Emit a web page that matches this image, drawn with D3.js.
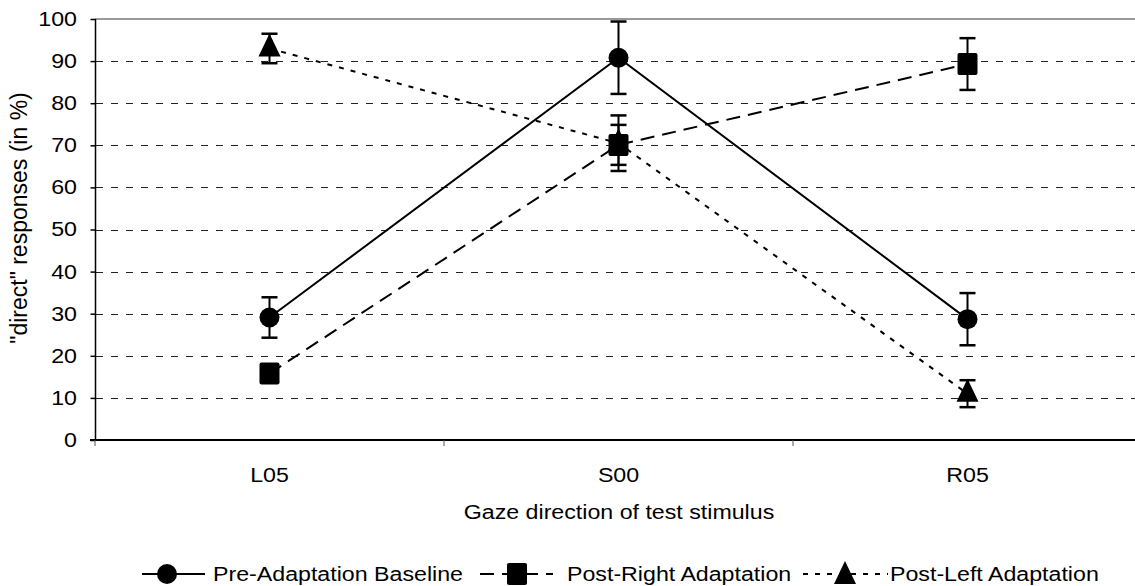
<!DOCTYPE html>
<html><head><meta charset="utf-8">
<script src="https://cdn.jsdelivr.net/npm/d3@7"></script>
<style>
html,body{margin:0;padding:0;background:#fff;overflow:hidden}
text{font-family:"Liberation Sans",Arial,sans-serif;fill:#000}
</style></head>
<body>
<svg id="chart" width="1135" height="586"></svg>
<script>
const categories = ["L05", "S00", "R05"];
const preValues = [29.1, 90.8, 28.7];
const preErr = [4.8, 8.6, 6.2];
const postRightValues = [15.8, 70.1, 89.3];
const postRightErr = [2.0, 4.75, 6.15];
const postLeftValues = [93.0, 70.5, 11.0];
const postLeftErr = [3.5, 6.6, 3.2];
const yTicks = [0, 10, 20, 30, 40, 50, 60, 70, 80, 90, 100];
const seriesNames = ["Pre-Adaptation Baseline", "Post-Right Adaptation", "Post-Left Adaptation"];
const yTitle = "\"direct\" responses (in %)";
const xTitle = "Gaze direction of test stimulus";

(function () {
const FS = 20, SX = 1.16;
const svg = d3.select("#chart");
const pLeft = 95, pRight = 1142, pTop = 19, pBottom = 440;
const x = d3.scaleBand().domain(categories).range([pLeft, pRight]).paddingInner(0).paddingOuter(0);
const cx = c => x(c) + x.bandwidth() / 2;
const y = d3.scaleLinear().domain([0, 100]).range([pBottom, pTop]);

function stext(g, str, tx, ty, anchor, baseline) {
  const gg = g.append("g").attr("transform", `translate(${tx},${ty}) scale(${SX},1)`);
  const t = gg.append("text").attr("font-size", FS).attr("text-anchor", anchor || "start").text(str);
  if (baseline) t.attr("dominant-baseline", baseline);
  return t;
}

// gridlines
svg.append("g").selectAll("line").data(yTicks.filter(v => v > 0 && v < 100)).join("line")
  .attr("x1", pLeft + 1).attr("x2", 1135).attr("y1", d => Math.round(y(d)) + 0.5).attr("y2", d => Math.round(y(d)) + 0.5)
  .attr("stroke", "#222").attr("stroke-width", 1).attr("stroke-dasharray", "7,8");
// top border
svg.append("line").attr("x1", pLeft).attr("x2", 1135).attr("y1", y(100)).attr("y2", y(100))
  .attr("stroke", "#999").attr("stroke-width", 2);

// y axis
const yAxis = d3.axisLeft(y).tickValues(yTicks).tickSize(5).tickFormat("");
const yg = svg.append("g").attr("transform", `translate(${pLeft + 0.5},0)`).call(yAxis);
yg.selectAll("path,line").attr("stroke", "#000").attr("stroke-width", 1.5);
yg.select(".domain").attr("d", `M0,${pTop}V${pBottom}`);
yTicks.forEach(v => stext(svg, String(v), 77, y(v), "end", "central"));

// x axis
const xAxis = d3.axisBottom(x).tickSize(0).tickFormat("");
const xg = svg.append("g").attr("transform", `translate(0,${pBottom})`).call(xAxis);
xg.select(".domain").attr("d", `M${pLeft - 5},0H1135`).attr("stroke", "#000").attr("stroke-width", 2);
xg.selectAll("line.sep").data(categories).join("line").attr("class", "sep")
  .attr("x1", d => x(d)).attr("x2", d => x(d)).attr("y1", 0).attr("y2", 6)
  .attr("stroke", "#555").attr("stroke-width", 1);
categories.forEach(c => stext(svg, c, cx(c), 482, "middle"));

// titles
stext(svg, xTitle, 619, 519, "middle");
svg.append("g").attr("transform", `translate(19,218) rotate(-90)`)
  .append("text").attr("font-size", 23).attr("text-anchor", "middle").attr("dominant-baseline", "central").text(yTitle);

const series = [
  { name: seriesNames[0], vals: preValues, err: preErr, dash: null, shape: "circle" },
  { name: seriesNames[2], vals: postLeftValues, err: postLeftErr, dash: "5,7", shape: "triangle" },
  { name: seriesNames[1], vals: postRightValues, err: postRightErr, dash: "14,8", shape: "square" }
];

const line = d3.line().x(d => cx(d.c)).y(d => y(d.v));
series.forEach(s => {
  const pts = categories.map((c, i) => ({ c, v: s.vals[i], e: s.err[i] }));
  svg.append("path").datum(pts).attr("d", line).attr("fill", "none").attr("stroke", "#000")
    .attr("stroke-width", 2).attr("stroke-dasharray", s.dash);
});

function marker(g, shape, px, py) {
  if (shape === "circle") g.append("circle").attr("cx", px).attr("cy", py).attr("r", 10).attr("fill", "#000");
  else if (shape === "square") g.append("rect").attr("x", px - 10).attr("y", py - 11).attr("width", 20).attr("height", 22).attr("rx", 2).attr("fill", "#000");
  else g.append("path").attr("d", `M${px},${py - 15}L${px + 11},${py + 8}L${px - 11},${py + 8}Z`).attr("fill", "#000");
}

series.forEach(s => {
  const pts = categories.map((c, i) => ({ c, v: s.vals[i], e: s.err[i] }));
  const g = svg.append("g");
  pts.forEach(p => {
    const px = cx(p.c);
    g.append("line").attr("x1", px).attr("x2", px).attr("y1", y(p.v + p.e)).attr("y2", y(p.v - p.e)).attr("stroke", "#000").attr("stroke-width", 2);
    [p.v + p.e, p.v - p.e].forEach(v => g.append("line").attr("x1", px - 8).attr("x2", px + 8).attr("y1", y(v)).attr("y2", y(v)).attr("stroke", "#000").attr("stroke-width", 2.5));
  });
  pts.forEach(p => marker(g, s.shape, cx(p.c), y(p.v)));
});

// legend
const ly = 574;
const lg = svg.append("g");
lg.append("line").attr("x1", 142).attr("x2", 205).attr("y1", ly).attr("y2", ly).attr("stroke", "#000").attr("stroke-width", 2);
marker(lg, "circle", 167, ly);
stext(lg, seriesNames[0], 213, ly + 7, "start");
lg.append("line").attr("x1", 480).attr("x2", 553).attr("y1", ly).attr("y2", ly).attr("stroke", "#000").attr("stroke-width", 2).attr("stroke-dasharray", "14,8");
marker(lg, "square", 517, ly);
stext(lg, seriesNames[1], 567, ly + 7, "start");
lg.append("line").attr("x1", 803).attr("x2", 888).attr("y1", ly).attr("y2", ly).attr("stroke", "#000").attr("stroke-width", 2).attr("stroke-dasharray", "5,7");
marker(lg, "triangle", 845, ly + 2);
stext(lg, seriesNames[2], 890, ly + 7, "start");
})();
</script>
</body></html>
